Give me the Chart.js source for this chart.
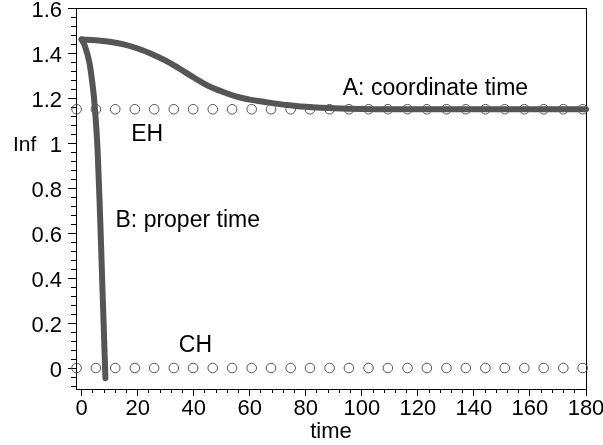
<!DOCTYPE html>
<html><head><meta charset="utf-8">
<script src="https://cdn.jsdelivr.net/npm/chart.js@4.4.0/dist/chart.umd.min.js"></script>
<style>html,body{margin:0;padding:0;background:#fff;}canvas{display:block;}</style>
</head><body>
<canvas id="c" width="603" height="445"></canvas>
<script>
// ---- data ----
const aTime  = [0, 5, 10, 15, 20, 25, 30, 35, 40, 45, 50, 55, 60, 65, 70, 75, 80, 85, 90, 100, 110, 120, 140, 160, 180];
const aValue = [1.46, 1.457, 1.450, 1.438, 1.420, 1.396, 1.366, 1.330, 1.291, 1.255, 1.229, 1.207, 1.193, 1.183, 1.174, 1.167, 1.161, 1.157, 1.154, 1.151, 1.150, 1.150, 1.150, 1.150, 1.150];
const bTime  = [0, 1.2, 2.8, 3.8, 4.4, 5.0, 5.3, 5.7, 6.4, 7.0, 7.5, 7.9, 8.5];
const bValue = [1.46, 1.43, 1.356, 1.27, 1.204, 1.11, 1.058, 0.969, 0.747, 0.524, 0.33, 0.182, -0.045];
const markerTime = [-1.8, 5.1, 12.0, 19.0, 25.9, 32.9, 39.8, 46.8, 53.7, 60.7, 67.6, 74.6, 81.5, 88.5, 95.4, 102.4, 109.3, 116.3, 123.2, 130.2, 137.1, 144.1, 151.0, 158.0, 164.9, 171.9, 178.8];
const ehValue = 1.15;
const chValue = 0;
const xTickValues = [0, 20, 40, 60, 80, 100, 120, 140, 160, 180];
const xTickLabels = ['0', '20', '40', '60', '80', '100', '120', '140', '160', '180'];
const yTickValues = [0, 0.2, 0.4, 0.6, 0.8, 1, 1.2, 1.4, 1.6];
const yTickLabels = ['0', '0.2', '0.4', '0.6', '0.8', '1', '1.2', '1.4', '1.6'];
const noteText = ['A: coordinate time', 'EH', 'B: proper time', 'CH'];
const noteX    = [93.2, 17.7, 12.1, 34.7];
const noteY    = [1.213, 1.010, 0.628, 0.072];
const xTitle = 'time';
const yTitle = 'Inf';
const yTitleAt = 0.963;
const xRange = [-2, 180];
const yRange = [-0.0933, 1.6];
const xMinorStep = 4, yMinorStep = 0.04;

// ---- chart ----
const FONT = '"Liberation Sans", Arial, Helvetica, sans-serif';
const xMinor = []; for (let k = 0; k * xMinorStep <= xRange[1] + 1e-9; k++) xMinor.push(k * xMinorStep);
const yMinor = []; for (let k = -2; k * yMinorStep <= yRange[1] + 1e-9; k++) yMinor.push(+(k * yMinorStep).toFixed(4));

const notesPlugin = {
  id: 'notes',
  afterDatasetsDraw(chart) {
    const {ctx, chartArea} = chart;
    const x = chart.scales.x, y = chart.scales.y;
    ctx.save();
    ctx.fillStyle = '#000';
    ctx.textAlign = 'left';
    ctx.textBaseline = 'alphabetic';
    ctx.font = '23px ' + FONT;
    noteText.forEach((t, i) => ctx.fillText(t, x.getPixelForValue(noteX[i]), y.getPixelForValue(noteY[i])));
    ctx.font = '21px ' + FONT;
    ctx.fillText(yTitle, chartArea.left - 63, y.getPixelForValue(yTitleAt));
    ctx.restore();
  }
};

const pts = (xs, ys) => xs.map((t, i) => ({x: t, y: ys[i]}));
const hidden = {display: false};
const noPad = s => { s.paddingTop = 0; s.paddingBottom = 0; s.paddingLeft = 0; s.paddingRight = 0; };

new Chart(document.getElementById('c'), {
  type: 'scatter',
  data: {
    datasets: [
      {data: markerTime.map(t => ({x: t, y: ehValue})), showLine: false, pointRadius: 4.8, pointStyle: 'circle',
       pointBorderColor: '#555', pointBackgroundColor: 'rgba(0,0,0,0)', pointBorderWidth: 1, clip: false},
      {data: markerTime.map(t => ({x: t, y: chValue})), showLine: false, pointRadius: 4.8, pointStyle: 'circle',
       pointBorderColor: '#555', pointBackgroundColor: 'rgba(0,0,0,0)', pointBorderWidth: 1, clip: false},
      {data: pts(aTime, aValue), showLine: true, borderColor: '#555', borderWidth: 6, pointRadius: 0,
       tension: 0.4, borderCapStyle: 'round', borderJoinStyle: 'round', fill: false, clip: false},
      {data: pts(bTime, bValue), showLine: true, borderColor: '#555', borderWidth: 6, pointRadius: 0,
       cubicInterpolationMode: 'monotone', borderCapStyle: 'round', borderJoinStyle: 'round', fill: false, clip: false}
    ]
  },
  options: {
    responsive: false,
    animation: false,
    events: [],
    layout: {padding: {left: 0, right: 17, top: 8, bottom: 0}},
    plugins: {legend: hidden, tooltip: {enabled: false}},
    scales: {
      x: {
        type: 'linear', position: 'bottom', weight: 1, min: xRange[0], max: xRange[1],
        afterBuildTicks: s => { s.ticks = xTickValues.map(v => ({value: v})); },
        ticks: {color: '#000', font: {family: FONT, size: 22}, padding: 0, maxRotation: 0, autoSkip: false,
                callback: (v) => xTickLabels[xTickValues.indexOf(v)]},
        grid: {drawOnChartArea: false, tickLength: 7, color: '#000', lineWidth: 1},
        border: {display: true, color: '#000', width: 1},
        title: {display: true, text: xTitle, color: '#000', font: {family: FONT, size: 22}, padding: {top: 0, bottom: 0}},
        afterFit: s => { s.height = 56; noPad(s); }
      },
      xMinor: {
        type: 'linear', position: 'bottom', weight: 0, min: xRange[0], max: xRange[1],
        afterBuildTicks: s => { s.ticks = xMinor.map(v => ({value: v})); },
        ticks: {display: false},
        grid: {drawOnChartArea: false, tickLength: 4, color: '#000', lineWidth: 1},
        border: {display: false},
        afterFit: s => { s.height = 0; noPad(s); }
      },
      y: {
        type: 'linear', position: 'left', weight: 1, min: yRange[0], max: yRange[1],
        afterBuildTicks: s => { s.ticks = yTickValues.map(v => ({value: v})); },
        ticks: {color: '#000', font: {family: FONT, size: 22}, padding: 6, labelOffset: 3, autoSkip: false,
                callback: (v) => yTickLabels[yTickValues.indexOf(v)]},
        grid: {drawOnChartArea: false, tickLength: 8, color: '#000', lineWidth: 1},
        border: {display: true, color: '#000', width: 1},
        afterFit: s => { s.width = 76; noPad(s); }
      },
      yMinor: {
        type: 'linear', position: 'left', weight: 0, min: yRange[0], max: yRange[1],
        afterBuildTicks: s => { s.ticks = yMinor.map(v => ({value: v})); },
        ticks: {display: false},
        grid: {drawOnChartArea: false, tickLength: 5, color: '#000', lineWidth: 1},
        border: {display: false},
        afterFit: s => { s.width = 0; noPad(s); }
      },
      xTop: {
        type: 'linear', position: 'top', min: xRange[0], max: xRange[1],
        ticks: {display: false}, grid: {display: false},
        border: {display: true, color: '#000', width: 1},
        afterFit: s => { s.height = 0; noPad(s); }
      },
      yRight: {
        type: 'linear', position: 'right', min: yRange[0], max: yRange[1],
        ticks: {display: false}, grid: {display: false},
        border: {display: true, color: '#000', width: 1},
        afterFit: s => { s.width = 0; noPad(s); }
      }
    }
  },
  plugins: [notesPlugin]
});
</script>
</body></html>
